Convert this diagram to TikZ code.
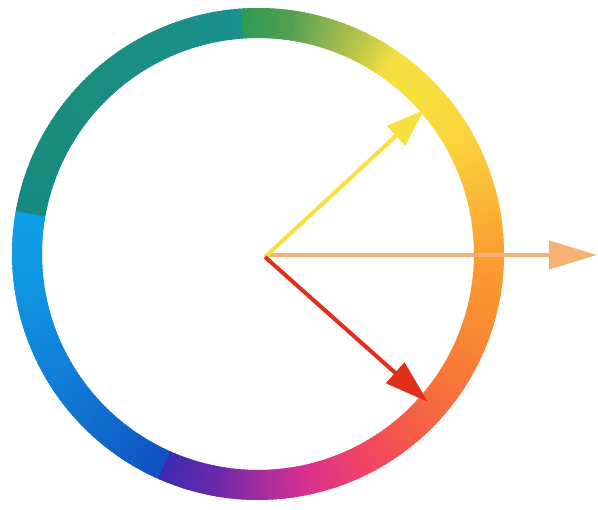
\documentclass[tikz,border=0pt]{standalone}
\usetikzlibrary{arrows.meta}
\definecolor{c01}{HTML}{3C2AB0}
\definecolor{c02}{HTML}{6A2AAA}
\definecolor{c03}{HTML}{A02CA0}
\definecolor{c04}{HTML}{D8308E}
\definecolor{c05}{HTML}{F0406C}
\definecolor{c06}{HTML}{F45A48}
\definecolor{c07}{HTML}{F7743A}
\definecolor{c08}{HTML}{F98E30}
\definecolor{c09}{HTML}{FAA030}
\definecolor{c10}{HTML}{FBBA38}
\definecolor{c11}{HTML}{FCD43C}
\definecolor{c12}{HTML}{F6E040}
\definecolor{c13}{HTML}{C8CC48}
\definecolor{c14}{HTML}{90B450}
\definecolor{c15}{HTML}{50A050}
\definecolor{c16}{HTML}{2E9A58}
\definecolor{t1}{HTML}{1A9090}
\definecolor{t2}{HTML}{1A8E84}
\definecolor{t3}{HTML}{198C7C}
\definecolor{t4}{HTML}{168A80}
\definecolor{b1}{HTML}{10A0E8}
\definecolor{b2}{HTML}{1094E0}
\definecolor{b3}{HTML}{1080D8}
\definecolor{b4}{HTML}{1068CC}
\definecolor{b5}{HTML}{1050C0}
\definecolor{arrY}{HTML}{F8E040}
\definecolor{arrO}{HTML}{F6B274}
\definecolor{arrR}{HTML}{E0301A}
\tikzset{
  ringseg/.style={line width=30pt},
  vec/.style={line width=4pt},
}
\begin{document}
\begin{tikzpicture}[x=1pt,y=1pt]
\useasboundingbox (0,0) rectangle (598,510);
\fill[white] (0,0) rectangle (598,510);
\coordinate (C) at (258,256);
\foreach \sa/\ea/\ca/\cb in {
  -100/-90/c02/c03, -90/-78/c03/c04, -78/-65/c04/c05,
  -65/-50/c05/c06, -50/-35/c06/c07, -35/-15/c07/c08, -15/0/c08/c09,
  0/15/c09/c10, 15/30/c10/c11, 30/45/c11/c12, 45/55/c12/c12,
  55/62/c12/c13, 62/72/c13/c14, 72/82/c14/c15, 82/94/c15/c16,
  94/120/t1/t2, 120/150/t2/t3, 150/170/t3/t4,
  170/190/b1/b2, 190/210/b2/b3, 210/230/b3/b4, 230/246/b4/b5,
  -114/-100/c01/c02} {
  \pgfmathtruncatemacro{\n}{\ea-\sa}
  \foreach \i in {1,...,\n} {
    \pgfmathsetmacro{\p}{100*(\i-0.5)/\n}
    \pgfmathsetmacro{\st}{\sa+\i-1}
    \pgfmathsetmacro{\en}{\sa+\i+0.6}
    \draw[ringseg, color=\cb!\p!\ca] (C) ++(\st:231) arc[start angle=\st, end angle=\en, radius=231];
  }
}
\coordinate (O) at (265,253);
\coordinate (Oo) at (267,255);
\coordinate (To) at (597,255);
\coordinate (Ty) at (424,400);
\coordinate (Tr) at (428,108);
\draw[vec, color=arrO, -{Triangle[length=48pt,width=28pt]}] (Oo) -- (To);
\draw[vec, color=arrY, -{Triangle[length=38pt,width=26pt]}] (O) -- (Ty);
\draw[vec, color=arrR, -{Triangle[length=44pt,width=27pt]}] (O) -- (Tr);
\end{tikzpicture}
\end{document}
